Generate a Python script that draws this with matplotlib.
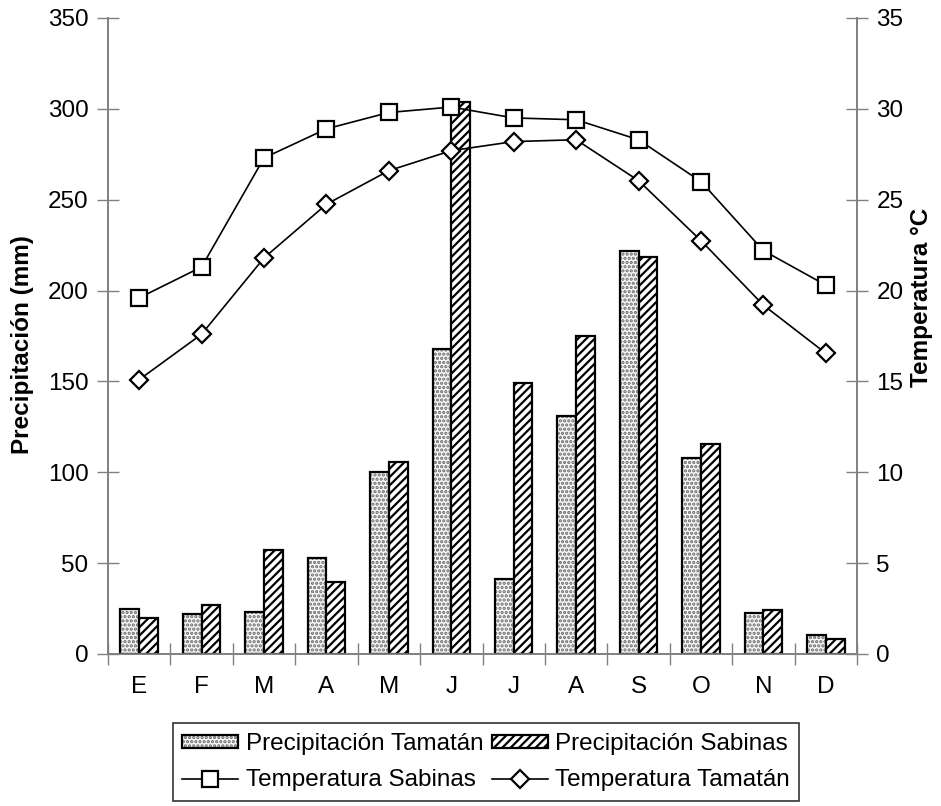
import matplotlib
matplotlib.use("Agg")
import matplotlib.pyplot as plt
import numpy as np

plt.rcParams['font.family'] = ['Liberation Sans', 'DejaVu Sans']
plt.rcParams['hatch.linewidth'] = 1.6

months = ["E", "F", "M", "A", "M", "J", "J", "A", "S", "O", "N", "D"]
precip_tamatan = [25, 22, 23, 53, 100, 168, 41, 131, 222, 108, 22.5, 10.5]
precip_sabinas = [20, 27, 57, 39.5, 105.5, 304, 149, 175, 218.5, 115.5, 24, 8]
temp_sabinas = [19.6, 21.3, 27.3, 28.9, 29.8, 30.1, 29.5, 29.4, 28.3, 26.0, 22.2, 20.3]
temp_tamatan = [15.1, 17.6, 21.8, 24.75, 26.6, 27.7, 28.2, 28.3, 26.05, 22.75, 19.2, 16.55]

fs = 17.5
W, H = 941, 806
fig = plt.figure(figsize=(W / 100, H / 100), dpi=100)
L, R, T, B = 108, 857, 18, 654
ax = fig.add_axes([L / W, 1 - B / H, (R - L) / W, (B - T) / H])
ax2 = ax.twinx()

x = np.arange(len(months))
w = 0.3
gray = '#808080'

b1 = ax.bar(x - w / 2, precip_tamatan, w, color='#f7f7f7', edgecolor='#6a6a6a',
            hatch='....', linewidth=0, zorder=2)
b1e = ax.bar(x - w / 2, precip_tamatan, w, fill=False, edgecolor='black',
             linewidth=1.6, zorder=3)
b2 = ax.bar(x + w / 2, precip_sabinas, w, color='white', edgecolor='black',
            hatch='////', linewidth=1.6, zorder=3)

l1, = ax2.plot(x, temp_sabinas, color='black', lw=1.2, marker='s', markersize=12,
               markerfacecolor='white', markeredgecolor='black', markeredgewidth=1.6,
               zorder=5)
l2, = ax2.plot(x, temp_tamatan, color='black', lw=1.2, marker='D', markersize=9.5,
               markerfacecolor='white', markeredgecolor='black', markeredgewidth=1.6,
               zorder=5)

ax.set_zorder(1)
ax2.set_zorder(2)
ax2.patch.set_visible(False)

ax.set_xlim(-0.5, len(months) - 0.5)
ax.set_ylim(0, 350)
ax2.set_ylim(0, 35)
ax.set_yticks(np.arange(0, 351, 50))
ax2.set_yticks(np.arange(0, 36, 5))

ax.set_xticks(x)
ax.set_xticklabels(months)
ax.set_xticks(np.arange(-0.5, len(months), 1), minor=True)
ax.tick_params(axis='x', which='major', length=0, pad=16, labelsize=fs)
ax.tick_params(axis='x', which='minor', length=16, direction='inout', color=gray, width=1)
ax.tick_params(axis='y', which='major', length=16, direction='inout', color=gray,
               width=1, labelsize=fs, pad=6)
ax2.tick_params(axis='y', which='major', length=16, direction='inout', color=gray,
                width=1, labelsize=fs, pad=6)

for a in (ax, ax2):
    a.spines['top'].set_visible(False)
    for s in ('left', 'right', 'bottom'):
        a.spines[s].set_color(gray)
        a.spines[s].set_linewidth(1.2)

ax.set_ylabel("Precipitación (mm)", fontsize=fs, fontweight='bold')
ax.yaxis.set_label_coords(-0.099, 0.486)
ax2.set_ylabel("Temperatura °C", fontsize=fs, fontweight='bold')
ax2.yaxis.set_label_coords(1.071, 0.56)

handles = [(b1, b1e), l1, b2, l2]
labels = ["Precipitación Tamatán", "Temperatura Sabinas",
          "Precipitación Sabinas", "Temperatura Tamatán"]
leg = fig.legend(handles, labels, ncol=2, loc='upper center',
                 bbox_to_anchor=(486 / W, 1 - 723 / H), fontsize=fs,
                 frameon=True, fancybox=False, edgecolor='black',
                 handlelength=2.3, handleheight=0.45, handletextpad=0.3,
                 columnspacing=0.35, labelspacing=0.6, borderpad=0.4,
                 borderaxespad=0)
leg.get_frame().set_linewidth(1.2)

fig.savefig("out.png", dpi=100)
